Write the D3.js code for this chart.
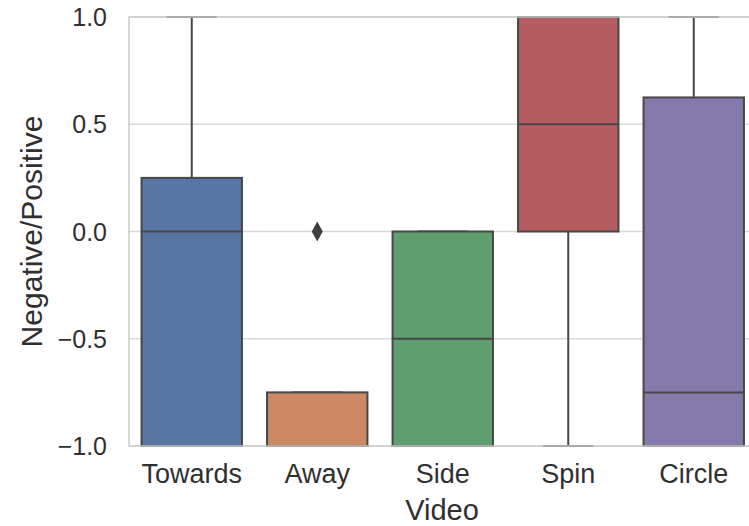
<!DOCTYPE html>
<html>
<head>
<meta charset="utf-8">
<script src="https://cdn.jsdelivr.net/npm/d3@7"></script>
<style>
  body { margin: 0; background: #fff; }
  text { font-family: "Liberation Sans", Arial, sans-serif; fill: #303030; }
</style>
</head>
<body>
<svg id="chart" width="749" height="526"></svg>
<script>
const videos = ["Towards", "Away", "Side", "Spin", "Circle"];
const q1 = [-1, -1, -1, 0, -1];
const medians = [0, -1, -0.5, 0.5, -0.75];
const q3 = [0.25, -0.75, 0, 1, 0.625];
const whiskerLow = [-1, -1, -1, -1, -1];
const whiskerHigh = [1, -0.75, 0, 1, 1];
const outliers = [[], [0], [], [], []];
const colors = ["#5875a4", "#cc8963", "#5f9e6e", "#b55d60", "#857aab"];
const yTicks = [-1, -0.5, 0, 0.5, 1];

const svg = d3.select("#chart");
const plotLeft = 129, plotRight = 756.5, plotTop = 17, plotBottom = 446;
const lineColor = "#474747";

const x = d3.scaleBand().domain(videos).range([plotLeft, plotRight]).padding(0);
const y = d3.scaleLinear().domain([-1, 1]).range([plotBottom, plotTop]);
const boxW = x.bandwidth() * 0.8;

// grid
svg.append("g")
  .selectAll("line")
  .data(yTicks)
  .join("line")
  .attr("x1", plotLeft)
  .attr("x2", plotRight)
  .attr("y1", (d) => y(d))
  .attr("y2", (d) => y(d))
  .attr("stroke", "#d9d9d9")
  .attr("stroke-width", 1.5);

const data = videos.map((v, i) => ({
  video: v,
  q1: q1[i],
  med: medians[i],
  q3: q3[i],
  lo: whiskerLow[i],
  hi: whiskerHigh[i],
  out: outliers[i],
  color: colors[i],
}));

const boxes = svg.append("g")
  .selectAll("g")
  .data(data)
  .join("g")
  .attr("transform", (d) => `translate(${x(d.video) + x.bandwidth() / 2},0)`);

// whiskers
boxes.append("line")
  .attr("y1", (d) => y(d.lo))
  .attr("y2", (d) => y(d.q1))
  .attr("stroke", lineColor)
  .attr("stroke-width", 2);
boxes.append("line")
  .attr("y1", (d) => y(d.q3))
  .attr("y2", (d) => y(d.hi))
  .attr("stroke", lineColor)
  .attr("stroke-width", 2);

// caps
boxes.append("line")
  .attr("x1", -boxW / 4)
  .attr("x2", boxW / 4)
  .attr("y1", (d) => y(d.hi))
  .attr("y2", (d) => y(d.hi))
  .attr("stroke", lineColor)
  .attr("stroke-width", 2);
boxes.append("line")
  .attr("x1", -boxW / 4)
  .attr("x2", boxW / 4)
  .attr("y1", (d) => y(d.lo))
  .attr("y2", (d) => y(d.lo))
  .attr("stroke", lineColor)
  .attr("stroke-width", 2);

// box
boxes.append("rect")
  .attr("x", -boxW / 2)
  .attr("width", boxW)
  .attr("y", (d) => y(d.q3))
  .attr("height", (d) => y(d.q1) - y(d.q3))
  .attr("fill", (d) => d.color)
  .attr("stroke", lineColor)
  .attr("stroke-width", 2);

// median
boxes.append("line")
  .attr("x1", -boxW / 2)
  .attr("x2", boxW / 2)
  .attr("y1", (d) => y(d.med))
  .attr("y2", (d) => y(d.med))
  .attr("stroke", lineColor)
  .attr("stroke-width", 2);

// outliers (thin diamond)
boxes.selectAll("path.out")
  .data((d) => d.out)
  .join("path")
  .attr("class", "out")
  .attr("d", (v) => {
    const cy = y(v);
    return `M0,${cy - 10}L5.5,${cy}L0,${cy + 10}L-5.5,${cy}Z`;
  })
  .attr("fill", "#3f3f3f");

// spines
svg.append("rect")
  .attr("x", plotLeft)
  .attr("y", plotTop)
  .attr("width", plotRight - plotLeft)
  .attr("height", plotBottom - plotTop)
  .attr("fill", "none")
  .attr("stroke", "#cccccc")
  .attr("stroke-width", 1.5);

// y tick labels
const fmt = d3.format(".1f");
svg.append("g")
  .selectAll("text")
  .data(yTicks)
  .join("text")
  .attr("x", 107)
  .attr("y", (d) => y(d))
  .attr("dy", "0.36em")
  .attr("text-anchor", "end")
  .attr("font-size", 25)
  .text((d) => fmt(d));

// x tick labels
svg.append("g")
  .selectAll("text")
  .data(videos)
  .join("text")
  .attr("x", (d) => x(d) + x.bandwidth() / 2)
  .attr("y", 483)
  .attr("text-anchor", "middle")
  .attr("font-size", 27)
  .text((d) => d);

// axis labels
svg.append("text")
  .attr("x", 442)
  .attr("y", 520)
  .attr("text-anchor", "middle")
  .attr("font-size", 29)
  .text("Video");

svg.append("text")
  .attr("transform", `translate(42,${(plotTop + plotBottom) / 2}) rotate(-90)`)
  .attr("text-anchor", "middle")
  .attr("font-size", 30)
  .text("Negative/Positive");
</script>
</body>
</html>
